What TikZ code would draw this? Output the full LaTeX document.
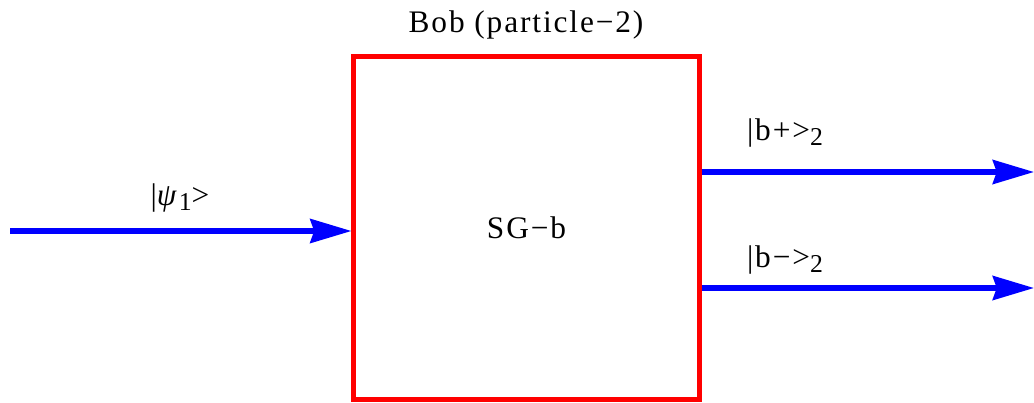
\documentclass[tikz,border=0pt]{standalone}
\usepackage{fontspec}
\setmainfont{Liberation Serif}[LetterSpace=6]
\usepackage{tikz}
\usetikzlibrary{arrows.meta}
\definecolor{sgred}{HTML}{FF0000}
\definecolor{beamblue}{HTML}{0000FF}
\newcommand{\ketidx}[1]{\raisebox{-0.18em}{\scalebox{0.82}{#1}}}

\begin{document}
\begin{tikzpicture}[x=0.025cm,y=-0.025cm,
    sgbox/.style={draw=sgred, line width=3.6pt, minimum width=8.625cm,
                  minimum height=8.55cm, inner sep=0pt, font=\fontsize{22.3}{25}\selectfont},
    beam/.style={draw=beamblue, line width=3.6pt,
                 -{Stealth[length=1.03cm, width=0.6cm, inset=0.1cm]}},
    lbl/.style={anchor=base, inner sep=0pt, font=\fontsize{22.3}{25}\selectfont}]

  \path[use as bounding box] (0,0) rectangle (1034,402);

  % ---- the Stern-Gerlach box of Bob ----
  \node[sgbox] (sgb) at (526.5,228) {SG−b};
  \node[lbl] (bob) at (526,32) {Bob (particle−2)};

  % ---- incoming beam ----
  \coordinate (src) at (10,231);
  \draw[beam] (src) -- (src -| sgb.west);
  \node[lbl] (psi) at (180,205) {|\textit{ψ}\ketidx{1}>};

  % ---- the two outgoing beams ----
  \coordinate (bplus) at (1034,172);
  \coordinate (bminus) at (1034,288);
  \draw[beam] (sgb.east |- bplus) -- (bplus);
  \draw[beam] (sgb.east |- bminus) -- (bminus);
  \node[lbl] (lplus) at (785,140) {|b+>\ketidx{2}};
  \node[lbl] (lminus) at (785,267) {|b−>\ketidx{2}};
\end{tikzpicture}
\end{document}
